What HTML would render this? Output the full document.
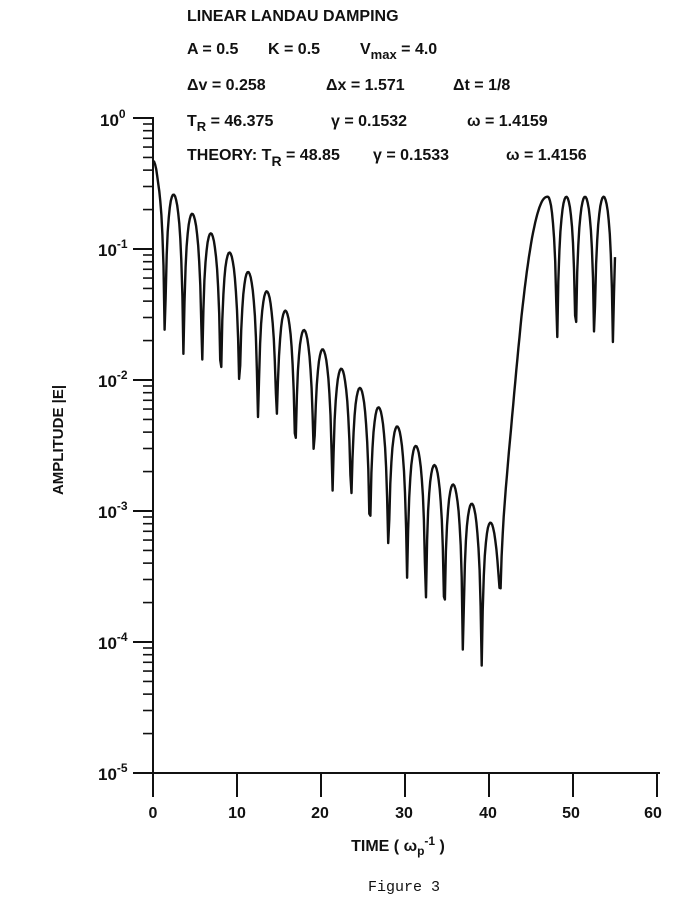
<!DOCTYPE html>
<html><head><meta charset="utf-8"><style>
html,body{margin:0;padding:0;background:#fff;}
svg{display:block}
text{font-family:"Liberation Sans",sans-serif;font-weight:bold;fill:#111}
</style></head><body>
<svg id="s" width="696" height="912" viewBox="0 0 696 912" xmlns="http://www.w3.org/2000/svg">
<g font-size="16">
<text x="187" y="21">LINEAR LANDAU DAMPING</text>
<text x="187" y="54">A = 0.5</text>
<text x="268" y="54">K = 0.5</text>
<text x="360" y="54">V<tspan font-size="13" dy="5">max</tspan><tspan dy="-5"> = 4.0</tspan></text>
<text x="187" y="90">Δv = 0.258</text>
<text x="326" y="90">Δx = 1.571</text>
<text x="453" y="90">Δt = 1/8</text>
<text x="187" y="126">T<tspan font-size="13" dy="5">R</tspan><tspan dy="-5"> = 46.375</tspan></text>
<text x="331" y="126">γ = 0.1532</text>
<text x="467" y="126">ω = 1.4159</text>
<text x="187" y="160">THEORY:  T<tspan font-size="14" dy="6">R</tspan><tspan dy="-6"> = 48.85</tspan></text>
<text x="373" y="160">γ = 0.1533</text>
<text x="506" y="160">ω = 1.4156</text>
</g>
<g font-size="17">
<text x="100" y="126">10<tspan font-size="12" dy="-8">0</tspan></text>
<text x="98" y="256">10<tspan font-size="12" dy="-8">-1</tspan></text>
<text x="98" y="387">10<tspan font-size="12" dy="-8">-2</tspan></text>
<text x="98" y="518">10<tspan font-size="12" dy="-8">-3</tspan></text>
<text x="98" y="649">10<tspan font-size="12" dy="-8">-4</tspan></text>
<text x="98" y="780">10<tspan font-size="12" dy="-8">-5</tspan></text>
</g>
<g font-size="16" text-anchor="middle">
<text x="153" y="818">0</text><text x="237" y="818">10</text><text x="320" y="818">20</text>
<text x="404" y="818">30</text><text x="488" y="818">40</text><text x="571" y="818">50</text><text x="653" y="818">60</text>
<text x="398" y="851">TIME ( ω<tspan font-size="12" dy="4">p</tspan><tspan font-size="12" dy="-10">-1</tspan><tspan dy="6"> )</tspan></text>
</g>
<text x="63" y="440" font-size="15" text-anchor="middle" transform="rotate(-90 63 440)">AMPLITUDE |E|</text>
<text x="404" y="891" font-size="15" text-anchor="middle" style="font-family:'Liberation Mono',monospace;font-weight:normal">Figure 3</text>
<g id="ax" stroke="#111" stroke-width="2" fill="none"></g>
<path id="c" stroke="#111" stroke-width="2.4" fill="none" stroke-linejoin="round"/>
</svg>
<script>
var X0=153,SX=8.4,Y0=118,DEC=131;
function X(t){return X0+SX*t}
function Y(v){return Y0-DEC*Math.log10(v)}
var ax=document.getElementById('ax'),h='';
h+='<line x1="153" y1="117" x2="153" y2="774"/>';
h+='<line x1="135" y1="773" x2="660" y2="773"/>';
for(var d=0;d<=5;d++){var y=Y0+DEC*d;h+='<line x1="133" y1="'+y+'" x2="153" y2="'+y+'"/>';
 if(d<5)for(var k=2;k<=9;k++){var yy=Y0+DEC*(d+1)-DEC*Math.log10(k);h+='<line x1="143" y1="'+yy+'" x2="153" y2="'+yy+'" stroke-width="1.6"/>';}}
for(var i=0;i<=6;i++){var x=X(i*10);h+='<line x1="'+x+'" y1="773" x2="'+x+'" y2="797"/>';}
ax.innerHTML=h;
var w=1.4159,p='';
function fl(t){return 0.085+0.035*Math.sin(t*2.7)+0.02*Math.cos(t*1.3);}
for(var n=0;n<=440;n++){var t=n/8,v,c,f=fl(t);
 if(t<46.9){c=Math.cos(w*(t-0.3));
  v=0.38*Math.exp(-0.1532*t)*Math.sqrt(c*c+f*f)+0.25*Math.exp(-0.23*(46.9-t)*(46.9-t));
  if(t<0.6)v*=1+0.35*(0.6-t)/0.6;}
 else {c=Math.sin(w*(t-48.1)); v=0.25*Math.sqrt(c*c+0.006);}
 p+=(n?'L':'M')+X(t).toFixed(1)+' '+Y(v).toFixed(1);}
document.getElementById('c').setAttribute('d',p);
</script>
</body></html>
